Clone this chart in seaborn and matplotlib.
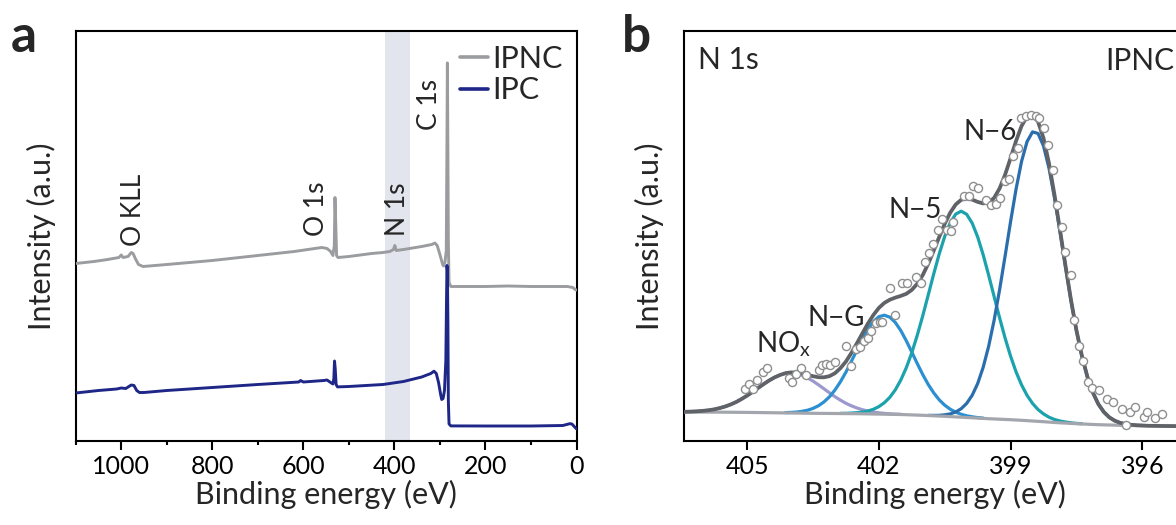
import numpy as np
import pandas as pd
import matplotlib
matplotlib.use("Agg")
import matplotlib.pyplot as plt
import seaborn as sns

# ---------------- panel a : XPS survey spectra ----------------
ipnc_be = [1100, 1060, 1030, 1005, 1000, 996, 985, 978, 974, 968, 962, 952, 900, 800, 700,
           620, 575, 559, 548, 540, 535, 532, 530.5, 529, 527, 524, 500, 450, 425, 410,
           402, 399, 396, 380, 340, 318, 311, 306, 300, 294, 292, 289, 286, 284.5, 283.6,
           283, 281.5, 280, 276, 200, 150, 100, 20, 8, 3, 0]
ipnc_int = [177, 179, 181, 183, 185.5, 183, 184, 188, 187, 181, 176, 174, 176, 180, 185,
            189, 192, 193, 192, 189, 185, 195, 243, 220, 185, 183, 184, 187, 188, 189,
            191, 195, 190, 191, 194, 196, 197.5, 195, 186, 176, 174.5, 178, 190, 300, 377.6,
            330, 200, 158, 154, 154, 154.5, 154, 154, 153, 151, 150.5]

ipc_be = [1100, 1050, 1010, 1000, 990, 978, 972, 966, 960, 950, 900, 800, 700, 610, 606,
          600, 555, 548, 540, 535, 533, 531.5, 530, 528, 525, 500, 425, 380, 340, 320,
          313, 308, 303, 298, 296, 293, 290, 287, 285.5, 284.5, 283.6, 282.5, 281.5, 280,
          276, 200, 100, 30, 15, 10, 5, 0]
ipc_int = [47.5, 50, 51.5, 52.5, 52, 55.5, 55, 50, 48, 48, 50, 53, 56, 58.5, 60,
           58.5, 60, 60.5, 58, 56.5, 62, 79.5, 72, 56, 53.6, 54, 56, 59, 63.5, 67,
           69.3, 67, 58, 45, 41, 42, 50, 80, 140, 175, 170, 120, 40, 16.6,
           14.6, 14.5, 14.5, 15, 16.8, 16.5, 14, 11.6]

n1s_band = [420, 365]
survey_labels = ["O KLL", "O 1s", "N 1s", "C 1s"]
survey_label_be = [972, 570, 393, 322]
survey_label_int = [194, 204, 204, 310]

# ---------------- panel b : N 1s high resolution ----------------
hr_be = [406.5, 406.375, 406.25, 406.125, 406.0, 405.875, 405.75, 405.625, 405.5, 405.375,
         405.25, 405.125, 405.0, 404.875, 404.75, 404.625, 404.5, 404.375, 404.25, 404.125,
         404.0, 403.875, 403.75, 403.625, 403.5, 403.375, 403.25, 403.125, 403.0, 402.875,
         402.75, 402.625, 402.5, 402.375, 402.25, 402.125, 402.0, 401.875, 401.75, 401.625,
         401.5, 401.375, 401.25, 401.125, 401.0, 400.875, 400.75, 400.625, 400.5, 400.375,
         400.25, 400.125, 400.0, 399.875, 399.75, 399.625, 399.5, 399.375, 399.25, 399.125,
         399.0, 398.875, 398.75, 398.625, 398.5, 398.375, 398.25, 398.125, 398.0, 397.875,
         397.75, 397.625, 397.5, 397.375, 397.25, 397.125, 397.0, 396.875, 396.75, 396.625,
         396.5, 396.375, 396.25, 396.125, 396.0, 395.875, 395.75, 395.625, 395.5, 395.375,
         395.25, 395.125, 395.0]
bg_int = [28.5, 28.48, 28.45, 28.43, 28.4, 28.38, 28.35, 28.33, 28.3, 28.25,
          28.2, 28.15, 28.1, 28.03, 27.95, 27.88, 27.8, 27.73, 27.65, 27.58,
          27.5, 27.43, 27.35, 27.28, 27.2, 27.15, 27.1, 27.05, 27.0, 26.95,
          26.9, 26.85, 26.8, 26.7, 26.6, 26.5, 26.4, 26.3, 26.2, 26.1,
          26.0, 25.8, 25.6, 25.4, 25.2, 24.95, 24.7, 24.45, 24.2, 23.9,
          23.6, 23.3, 23.0, 22.7, 22.4, 22.1, 21.8, 21.55, 21.3, 21.05,
          20.8, 20.5, 20.2, 19.85, 19.5, 19.15, 18.8, 18.4, 18.0, 17.7,
          17.4, 17.1, 16.8, 16.55, 16.3, 16.05, 15.8, 15.65, 15.5, 15.35,
          15.2, 15.1, 15.0, 14.9, 14.8, 14.73, 14.65, 14.58, 14.5, 14.45,
          14.4, 14.35, 14.3]
nox_int = [0.2, 0.3, 0.5, 0.8, 1.3, 1.9, 2.8, 4.1, 5.7, 7.8,
           10.3, 13.4, 16.8, 20.6, 24.6, 28.5, 32.2, 35.4, 37.9, 39.5,
           40.0, 39.5, 37.9, 35.4, 32.2, 28.5, 24.6, 20.6, 16.8, 13.4,
           10.3, 7.8, 5.7, 4.1, 2.8, 1.9, 1.3, 0.8, 0.5, 0.3, 0.2] + [0] * 52
ng_int = [0] * 19 + [0.3, 0.6, 1.0, 1.8, 3.0, 4.9, 7.6, 11.5, 16.7, 23.5,
                     31.8, 41.5, 52.4, 63.7, 74.7, 84.6, 92.4, 97.4, 99.0, 97.1,
                     91.9, 83.9, 73.9, 62.8, 51.5, 40.7, 31.0, 22.9, 16.2, 11.1,
                     7.4, 4.7, 2.9, 1.7, 1.0, 0.5, 0.3] + [0] * 37
n5_int = [0] * 29 + [0.2, 0.3, 0.6, 1.0, 1.7, 2.9, 4.7, 7.5, 11.5, 17.0,
                     24.6, 34.5, 47.0, 62.2, 79.9, 99.6, 120.7, 142.0, 162.2, 179.9,
                     193.8, 202.8, 206.0, 203.2, 194.7, 181.2, 163.7, 143.6, 122.4, 101.3,
                     81.4, 63.5, 48.1, 35.4, 25.3, 17.6, 11.8, 7.8, 4.9, 3.0,
                     1.8, 1.1, 0.6, 0.3, 0.2] + [0] * 19
n6_int = [0] * 45 + [0.2, 0.4, 0.7, 1.5, 2.7, 4.9, 8.5, 14.1, 22.5, 34.5,
                     51.0, 72.3, 98.7, 129.5, 163.4, 198.1, 231.0, 258.9, 279.0, 289.1,
                     287.9, 275.8, 253.9, 224.7, 191.2, 156.5, 123.0, 93.1, 67.7, 47.3,
                     31.8, 20.5, 12.8, 7.6, 4.4, 2.4, 1.3, 0.7, 0.3, 0.2] + [0] * 8

dots_be = [405.06, 404.96, 404.87, 404.77, 404.65, 404.55, 404.04, 403.97, 403.88, 403.77,
           403.67, 403.37, 403.29, 403.21, 403.12, 403.01, 402.74, 402.63, 402.53, 402.44,
           402.35, 402.25, 402.17, 402.07, 401.98, 401.92, 401.75, 401.64, 401.47, 401.36,
           401.16, 401.05, 400.96, 400.86, 400.76, 400.66, 400.56, 400.44, 400.35, 400.31,
           400.06, 399.95, 399.85, 399.74, 399.57, 399.45, 399.34, 399.25, 399.13, 399.04,
           398.94, 398.83, 398.76, 398.64, 398.54, 398.43, 398.35, 398.24, 398.15, 398.03,
           397.94, 397.82, 397.76, 397.62, 397.56, 397.45, 397.35, 397.24, 397.14, 396.99,
           396.80, 396.67, 396.46, 396.38, 396.27, 396.16, 395.96, 395.89, 395.70, 395.56]
dots_int = [51.9, 56.3, 51.9, 60.6, 68.7, 72.4, 63.0, 58.6, 67.0, 72.1,
            65.4, 70.4, 75.4, 76.4, 75.4, 78.8, 94.2, 74.7, 91.5, 93.2,
            99.9, 102.2, 109.9, 117.3, 119.0, 119.0, 152.9, 125.1, 157.6, 157.6,
            163.6, 157.6, 178.7, 187.1, 196.2, 210.6, 221.3, 210.6, 209.9, 219.0,
            244.1, 244.1, 254.8, 252.5, 240.7, 235.7, 236.7, 242.4, 259.2, 261.9,
            285.0, 292.6, 322.8, 324.5, 325.2, 324.5, 322.8, 312.8, 296.0, 270.9,
            235.7, 213.9, 188.8, 165.3, 120.1, 95.0, 79.9, 58.8, 52.2, 50.5,
            42.0, 38.8, 31.2, 15.5, 28.8, 33.2, 23.8, 28.8, 22.2, 26.2]

comp_names = ["NO$_\\mathregular{x}$", "N\u2212G", "N\u22125", "N\u22126"]
comp_label_be = [404.17, 402.98, 401.17, 399.46]
comp_label_int = [88, 115, 222, 301]

for arr in (bg_int, nox_int, ng_int, n5_int, n6_int):
    assert len(arr) == len(hr_be), len(arr)

# ---------------- styling ----------------
sns.set_style("ticks")
plt.rcParams.update({
    "font.family": ["Lato", "DejaVu Sans"],
    "mathtext.fontset": "custom",
    "mathtext.rm": "Lato",
    "mathtext.it": "Lato:italic",
    "axes.linewidth": 1.5,
    "axes.edgecolor": "black",
    "xtick.color": "black",
    "xtick.major.width": 1.5,
    "xtick.minor.width": 1.5,
    "xtick.direction": "out",
})

W, H = 1176, 525
fig = plt.figure(figsize=(W / 100, H / 100), dpi=100)
axa = fig.add_axes([75.7 / W, 1 - 440.5 / H, 500.8 / W, 409.5 / H])
axb = fig.add_axes([683.5 / W, 1 - 440.5 / H, 502.7 / W, 409.5 / H])

c_ipnc = "#9a9c9f"
c_ipc = "#1e2687"

# ---- panel a ----
axa.axvspan(n1s_band[0], n1s_band[1], color="#e3e5ee", lw=0, zorder=0)
sns.lineplot(x=ipnc_be, y=ipnc_int, ax=axa, color=c_ipnc, lw=2.1, sort=False,
             estimator=None, label="IPNC", zorder=3)
sns.lineplot(x=ipc_be, y=ipc_int, ax=axa, color=c_ipc, lw=2.1, sort=False,
             estimator=None, label="IPC", zorder=4)
for t, xb, yi in zip(survey_labels, survey_label_be, survey_label_int):
    axa.text(xb, yi, t, rotation=90, ha="center", va="bottom", fontsize=19)
axa.set_xlim(1100, 0)
axa.set_ylim(0, 409.5)
axa.set_xticks([1000, 800, 600, 400, 200, 0])
axa.set_xticks([1100, 900, 700, 500, 300, 100], minor=True)
axa.tick_params(axis="x", which="major", length=6.5, labelsize=18, pad=4)
axa.tick_params(axis="x", which="minor", length=3)
axa.set_yticks([])
axa.set_xlabel("Binding energy (eV)", fontsize=22, labelpad=1)
axa.set_ylabel("Intensity (a.u.)", fontsize=22, labelpad=14)
leg = axa.legend(loc="upper right", frameon=False, fontsize=22, handlelength=0.9,
                 handletextpad=0.15, labelspacing=0.12, borderaxespad=0.05)
for lh in leg.get_lines():
    lh.set_linewidth(2.6)

# ---- panel b ----
be = np.array(hr_be)
bg = np.array(bg_int)
comps = [np.array(nox_int, float), np.array(ng_int, float),
         np.array(n5_int, float), np.array(n6_int, float)]
comp_colors = ["#9b99cd", "#2b8fd0", "#1ca2ad", "#2a6eae"]
for comp, col in zip(comps, comp_colors):
    m = comp > 0
    sns.lineplot(x=be[m], y=(bg + comp)[m], ax=axb, color=col, lw=2.3, sort=False,
                 estimator=None, zorder=3)
sns.lineplot(x=be, y=bg, ax=axb, color="#a3a7ad", lw=2.3, sort=False,
             estimator=None, zorder=4)
envelope = bg + sum(comps)
sns.lineplot(x=be, y=envelope, ax=axb, color="#5f6266", lw=2.7, sort=False,
             estimator=None, zorder=5)
sns.scatterplot(x=dots_be, y=dots_int, ax=axb, marker="o", s=34, color="white",
                edgecolor="#8e8e8e", linewidth=1.0, zorder=6)
for t, xb, yi in zip(comp_names, comp_label_be, comp_label_int):
    axb.text(xb, yi, t, ha="center", va="baseline", fontsize=20)
axb.text(406.13, 371.5, "N 1s", ha="left", va="baseline", fontsize=21.5)
axb.text(396.84, 370.5, "IPNC", ha="left", va="baseline", fontsize=21.5)
axb.set_xlim(406.45, 395.0)
axb.set_ylim(0, 409.5)
axb.set_xticks([405, 402, 399, 396])
axb.tick_params(axis="x", which="major", length=6.5, labelsize=18, pad=4)
axb.set_yticks([])
axb.set_xlabel("Binding energy (eV)", fontsize=22, labelpad=1)
axb.set_ylabel("Intensity (a.u.)", fontsize=22, labelpad=14)

for ax in (axa, axb):
    for s in ax.spines.values():
        s.set_visible(True)
        s.set_linewidth(1.5)

fig.text(24 / W, 1 - 52 / H, "a", fontsize=37, fontweight="bold", ha="center", va="baseline")
fig.text(636 / W, 1 - 52 / H, "b", fontsize=37, fontweight="bold", ha="center", va="baseline")

fig.savefig("out.png", dpi=100)
